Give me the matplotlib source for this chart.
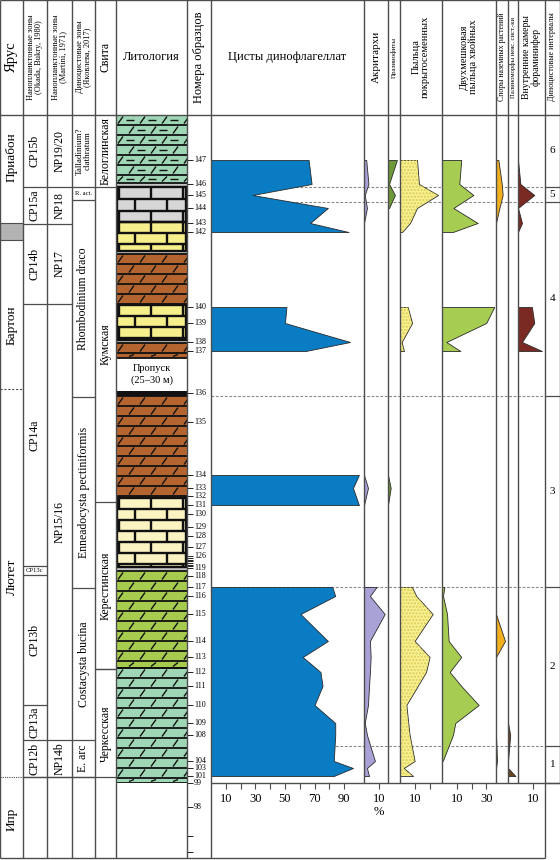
import numpy as np
import matplotlib
matplotlib.use('Agg')
import matplotlib.pyplot as plt
from matplotlib.patches import Rectangle
from matplotlib.collections import LineCollection

plt.rcParams['font.family'] = ['Liberation Serif', 'DejaVu Serif']

# ---------------- data ----------------
# depth below top of the section (drawing units), top of section = 0, base of section = 668
sample_no = [147, 146, 145, 144, 143, 142, 140, 139, 138, 137, 136, 135, 134, 133, 132, 131, 130,
             129, 128, 127, 126, 125, 124, 123, 122, 121, 120, 119, 118, 117, 116, 115, 114, 113,
             112, 111, 110, 109, 108, 104, 103, 101, 99, 98, None, None]
sample_depth = [45, 69, 80, 93, 108, 117, 192, 208, 227, 236, 278, 307, 360, 373, 381, 390, 399,
                412, 421, 432, 441, 443, 444.7, 446.4, 448, 449.7, 451.4, 453, 461, 472, 481, 499, 526, 542,
                557, 571, 590, 608, 620, 646, 653, 661, 668, 692, 721, 737]
unlabeled = [125, 124, 123, 122, 121, 120]

stage_names = ['Приабон', 'Бартон', 'Лютет', 'Ипр']
stage_top = [0, 125, 274, 662]
stage_bot = [108, 274, 662, 743]
stage_label_at = [42, 210, 462, 704]

cp_names = ['CP15b', 'CP15a', 'CP14b', 'CP14a', 'CP13c', 'CP13b', 'CP13a', 'CP12b']
cp_bounds = [0, 72, 109, 189, 451, 460, 590, 625, 662]

np_names = ['NP19/20', 'NP18', 'NP17', 'NP15/16', 'NP14b']
np_bounds = [0, 72, 109, 189, 625, 662]

dz_names = ['Talladinium?\nclathratum', 'R. act.', 'Rhombodinium draco',
            'Enneadocysta pectiniformis', 'Costacysta bucina', 'E. arc']
dz_bounds = [0, 72, 85, 282, 473, 625, 662]

fm_names = ['Белоглинская', 'Кумская', 'Керестинская', 'Черкесская']
fm_bounds = [0, 72, 387, 554, 743]

lith_top = [0, 68, 72, 107, 136, 139, 190, 225, 228, 243, 276, 281, 383, 452, 456, 553]
lith_bot = [68, 72, 107, 136, 139, 190, 225, 228, 243, 276, 281, 383, 452, 456, 553, 668]
lith_kind = ['clay', 'thin', 'lime_grey', 'lime', 'thin', 'marl_brown', 'lime', 'thin',
             'marl_brown', 'gap', 'coal', 'marl_brown', 'lime_pale', 'thin', 'marl_green', 'marl_teal']

interval_names = ['6', '5', '4', '3', '2', '1']
interval_bounds = [0, 72, 87, 281, 472, 631, 668]

# sample groups with counts
upper = [147, 146, 145, 144, 143, 142]
middle = [140, 139, 138, 137]
mid_low = [134, 133, 131]
lower = [117, 116, 115, 114, 113, 112, 111, 110, 109, 108, 104, 103, 101]

# dinoflagellate cysts, %
dino_upper = [66, 68, 28, 79, 67, 93]
dino_middle = [51, 50, 94, 64]
dino_mid_low = [100, 96, 100]
dino_lower = [82, 84, 60.5, 79, 62, 74, 75.4, 70, 84, 84, 83, 96, 83]

# acritarchs, %
acr_upper = [1.5, 3, 0.5, 2, 0]
acr_mid_low = [0, 2.7, 0]
acr_lower = [8.5, 4, 14, 4, 4.5, 4, 3.4, 2.7, 0.5, 2, 7.4, 2, 3.4]

# prasinophytes, %
pras_upper = [6, 0.7, 4.7, 0.7]
pras_mid_low = [0, 1.8, 0]

# angiosperm pollen, %
ang_upper = [11.5, 12.8, 25.7, 11.5, 6.8, 1.4]
ang_middle = [5.2, 8.2, 1.1, 2.7]
ang_lower = [8.1, 11, 22.1, 9.9, 20, 17.6, 12, 4.3, 5.6, 6.5, 9.9, 2.5, 8.8]

# bisaccate conifer pollen, %
bis_upper = [13, 11.7, 21.2, 7.7, 24.1, 7.3]
bis_middle = [35.3, 29.9, 2.9, 12.4]
bis_lower = [1.6, 0.7, 3.4, 4.5, 13, 5.2, 13, 24.8, 9, 7.4, 0.5]

# spores of land plants, %
spo_upper = [1.6, 3.9, 4.5, 2.3, 0]
spo_lower_a = [0, 6.1, 0]
spo_lower_b = [0, 0.7, 0]

# palynomorphs of unclear affinity, %
pal_lower_a = [0, 1.5, 0]
pal_lower_b = [0, 5]

# foraminiferal linings, %
for_upper = [0, 1.6, 11, 0, 2.7, 0]
for_middle = [9.4, 11, 2.7, 16.2]

# ---------------- layout ----------------
W, H = 560, 860
TOP, HEAD, BASE, BOT = 0, 115, 783, 858
PX_PER_PCT = 1.479
LINE = '#4d4d4d'

fig = plt.figure(figsize=(W / 100, H / 100), dpi=100)


def px_axes(x0, y0, x1, y1, off=True):
    ax = fig.add_axes([x0 / W, 1 - y1 / H, (x1 - x0) / W, (y1 - y0) / H])
    if off:
        ax.set_axis_off()
    return ax


depth_of = dict(zip(sample_no, sample_depth))

# section axes: x in px, y in depth
sec = px_axes(0, HEAD, W, BOT)
sec.set_xlim(0, W)
sec.set_ylim(BOT - HEAD, 0)

# uncertain boundary box
sec.add_patch(Rectangle((0, stage_bot[0]), 23, stage_top[1] - stage_bot[0], facecolor='#b3b3b3', edgecolor='none'))
for name, t, b, lab in zip(stage_names, stage_top, stage_bot, stage_label_at):
    sec.text(11.5, lab, name, rotation=90, ha='center', va='center', fontsize=9.5)
sec.hlines(stage_bot[0], 0, 23, color=LINE, lw=0.8)
sec.hlines(stage_top[1], 0, 23, color=LINE, lw=0.8)
sec.hlines(stage_top[2], 0, 23, color=LINE, lw=0.8, linestyles=(0, (2, 1.5)))
sec.hlines(stage_top[3], 0, 23, color=LINE, lw=0.8, linestyles=(0, (1, 1)))


def zone_column(x0, x1, bounds, names, size):
    for b in bounds[1:]:
        sec.hlines(b, x0, x1, color=LINE, lw=0.9)
    for i, name in enumerate(names):
        mid = (bounds[i] + bounds[i + 1]) / 2
        fs = size if '\n' not in name else size - 2
        if bounds[i + 1] - bounds[i] < 16:
            sec.text((x0 + x1) / 2, mid, name, ha='center', va='center', fontsize=4.8)
        else:
            sec.text((x0 + x1) / 2, mid, name, rotation=90, ha='center', va='center',
                     fontsize=fs, multialignment='center', linespacing=0.9)


zone_column(23, 47, cp_bounds, cp_names, 8.5)
zone_column(47, 72, np_bounds, np_names, 8.5)
zone_column(72, 95, dz_bounds, dz_names, 8.5)
zone_column(95, 116, fm_bounds[:-1] + [fm_bounds[-2]], fm_names[:-1] + [''], 8.5)
sec.text(105.5, (fm_bounds[-2] + 668) / 2 + 8, fm_names[-1], rotation=90, ha='center', va='center', fontsize=8.5)
sec.hlines(stage_top[3], 23, 116, color=LINE, lw=0.9)

# sample ticks and numbers
for no, d in zip(sample_no, sample_depth):
    sec.hlines(d, 187, 193, color='#222222', lw=0.7)
    if no is not None and no not in unlabeled:
        sec.text(194, d, str(no), ha='left', va='center', fontsize=5.8)

# dinocyst intervals column
for b in interval_bounds[1:]:
    sec.hlines(b, 545, 560, color=LINE, lw=0.9)
    if b < interval_bounds[-1]:
        sec.hlines(b, 211, 545, color='#8a8a8a', lw=0.8, linestyles=(0, (2.5, 1.5)))
for i, name in enumerate(interval_names):
    sec.text(552.5, (interval_bounds[i] + interval_bounds[i + 1]) / 2, name,
             ha='center', va='center', fontsize=8)

# ---------------- lithology ----------------
LW_ = 71
lith = px_axes(116, HEAD, 187, BASE)
lith.set_xlim(0, LW_)
lith.set_ylim(BASE - HEAD, 0)

lith_colors = {'clay': '#9fd7b6', 'marl_teal': '#9fd7b6', 'marl_brown': '#b4652f',
               'marl_green': '#a6cb4f', 'lime_grey': '#d7d7d7', 'lime': '#f7ee8c',
               'lime_pale': '#fbf3c2', 'thin': '#c4c4c4', 'gap': 'white', 'coal': '#111111'}


def bricks(top, bot, row):
    segs = []
    for k, y in enumerate(np.arange(top, bot, row)):
        y2 = min(y + row, bot)
        segs.append([(0, y), (LW_, y)])
        for x in np.arange(3 + (k % 2) * 16, LW_, 32):
            segs.append([(x, y), (x, y2)])
        segs.append([(0.8, y), (0.8, y2)])
        segs.append([(LW_ - 0.8, y), (LW_ - 0.8, y2)])
    segs.append([(0, bot), (LW_, bot)])
    lith.add_collection(LineCollection(segs, colors='#111111', linewidths=1.7))


def marl(top, bot, row, dashes=False):
    lines, slashes = [], []
    for k, y in enumerate(np.arange(top, bot, row)):
        y2 = min(y + row, bot)
        lines.append([(0, y), (LW_, y)])
        for x in np.arange(2 + (k % 2) * 11, LW_, 22):
            slashes.append([(x, y2 - 1.5), (x + 5, y + 1.5)])
            if dashes and x + 15 < LW_:
                slashes.append([(x + 8, (y + y2) / 2), (x + 16, (y + y2) / 2)])
    lines.append([(0, bot), (LW_, bot)])
    lith.add_collection(LineCollection(lines, colors='#111111', linewidths=1.3))
    lith.add_collection(LineCollection(slashes, colors='#111111', linewidths=1.0))


for t, b, kind in zip(lith_top, lith_bot, lith_kind):
    lith.add_patch(Rectangle((0, t), LW_, b - t, facecolor=lith_colors[kind], edgecolor='none'))
    if kind == 'clay':
        marl(t, b, 10, dashes=True)
    elif kind.startswith('marl'):
        marl(t, b, 10)
    elif kind == 'lime_grey':
        bricks(t, b, 12)
    elif kind in ('lime', 'lime_pale'):
        bricks(t, b, 11)
    elif kind == 'gap':
        lith.text(LW_ / 2, (t + b) / 2, 'Пропуск\n(25–30 м)', ha='center', va='center',
                  fontsize=7.5, linespacing=1.3)

# ---------------- curves ----------------
panels = [
    (211, 364, '#0a7cc3', [(upper, dino_upper), (middle, dino_middle), (mid_low, dino_mid_low),
                          (lower, dino_lower)], [10, 30, 50, 70, 90], [20, 40, 60, 80]),
    (364, 388, '#a8a2d6', [(upper[:5], acr_upper), (mid_low, acr_mid_low), (lower, acr_lower)], [10], []),
    (388, 400, '#6f9a3a', [(upper[:4], pras_upper), (mid_low, pras_mid_low)], [], []),
    (400, 442, '#f8f08e', [(upper, ang_upper), (middle, ang_middle), (lower, ang_lower)], [10], [20]),
    (442, 496, '#a7cc52', [(upper, bis_upper), (middle, bis_middle), (lower[:11], bis_lower)], [10, 30], [20]),
    (496, 508, '#f2b01e', [(upper[:5], spo_upper), (lower[2:5], spo_lower_a), (lower[9:12], spo_lower_b)], [], []),
    (508, 518, '#6a4524', [(lower[8:11], pal_lower_a), (lower[11:], pal_lower_b)], [], []),
    (518, 545, '#7a2a22', [(upper, for_upper), (middle, for_middle)], [10], []),
]

for x0, x1, color, segments, major, minor in panels:
    ax = px_axes(x0, HEAD, x1, BASE, off=False)
    for s in ax.spines.values():
        s.set_visible(False)
    ax.patch.set_visible(False)
    for nos, vals in segments:
        d = [depth_of[n] for n in nos]
        ax.fill_betweenx(d, 0, vals, facecolor=color, edgecolor='#2a2a2a', linewidth=0.6)
        if color == '#f8f08e':
            ax.fill_betweenx(d, 0, vals, facecolor='none', edgecolor='#d9cd5a', hatch='.....', linewidth=0)
    ax.set_xlim(0, (x1 - x0) / PX_PER_PCT)
    ax.set_ylim(BASE - HEAD, 0)
    ax.set_yticks([])
    ax.set_xticks(major)
    ax.set_xticks(minor, minor=True)
    ax.tick_params(axis='x', which='both', direction='out', length=4, width=0.8, color=LINE,
                   labelsize=9, pad=3)

# ---------------- frame and header ----------------
frame = px_axes(0, 0, W, H)
frame.set_xlim(0, W)
frame.set_ylim(H, 0)
frame.set_zorder(10)

full = [0, 23, 47, 72, 95, 116, 187, 211, 545]
short = [364, 388, 400, 442, 496, 508, 518, 560]
frame.vlines(full, TOP, BOT, color=LINE, lw=1.0)
frame.vlines(short, TOP, BASE, color=LINE, lw=1.0)
frame.hlines([TOP, HEAD], 0, W, color=LINE, lw=1.0)
frame.hlines(BASE, 211, W, color=LINE, lw=1.0)
frame.hlines(BOT, 0, 545, color=LINE, lw=1.0)

header = [
    (0, 23, 'Ярус', 10.5, 90),
    (23, 47, 'Нанопланктонные зоны\n(Okada, Bukry, 1980)', 6, 90),
    (47, 72, 'Нанопланктонные зоны\n(Martini, 1971)', 6, 90),
    (72, 95, 'Диноцистовые зоны\n(Яковлева, 2017)', 6, 90),
    (95, 116, 'Свита', 8.5, 90),
    (116, 187, 'Литология', 9, 0),
    (187, 211, 'Номера образцов', 9, 90),
    (211, 364, 'Цисты динофлагеллат', 9, 0),
    (364, 388, 'Акритархи', 8, 90),
    (388, 400, 'Празинофиты', 5, 90),
    (400, 442, 'Пыльца\nпокрытосеменных', 7.5, 90),
    (442, 496, 'Двухмешковая\nпыльца хвойных', 7.5, 90),
    (496, 508, 'Споры наземных растений', 5.6, 90),
    (508, 518, 'Палиноморфы неяс. сист.-ки', 4.8, 90),
    (518, 545, 'Внутренние камеры\nфораминифер', 7, 90),
    (545, 560, 'Диноцистовые интервалы', 5.8, 90),
]
for x0, x1, txt, size, rot in header:
    frame.text((x0 + x1) / 2, 57, txt, rotation=rot, ha='center', va='center', fontsize=size,
               multialignment='center', linespacing=1.0)

frame.text(379, 812, '%', ha='center', va='center', fontsize=9)

fig.savefig('out.png', dpi=100)
